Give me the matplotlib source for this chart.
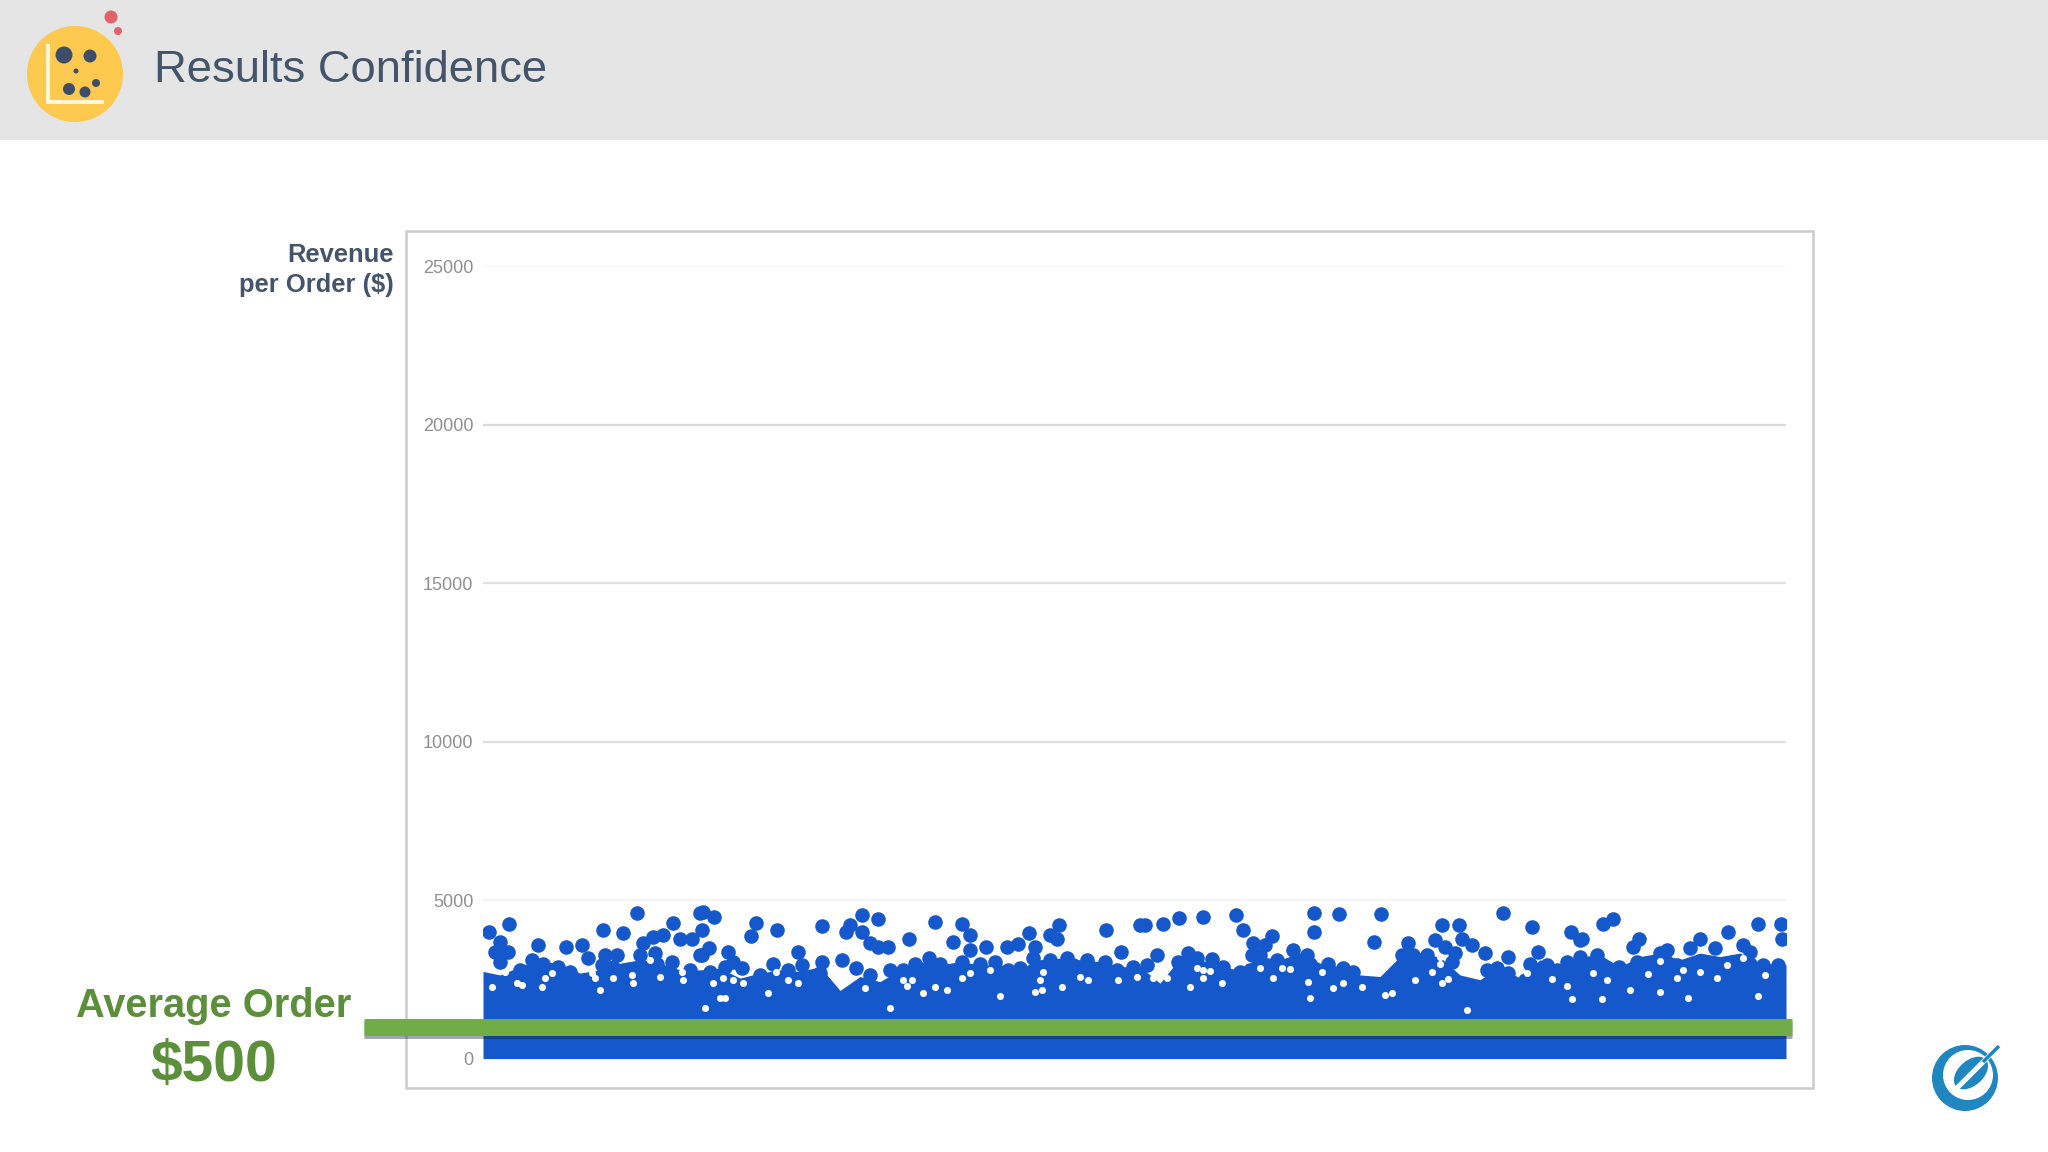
import matplotlib
matplotlib.use("Agg")
import matplotlib.pyplot as plt
import matplotlib.patheffects as pe
from matplotlib.patches import Rectangle, Circle, Ellipse

plt.rcParams['font.family'] = ['Liberation Sans', 'DejaVu Sans']

TITLE = "Results Confidence"
Y_LABEL = "Revenue\nper Order ($)"
AVG_LABEL = "Average Order"
AVG_VALUE_LABEL = "$500"

y_ticks = [0, 5000, 10000, 15000, 20000, 25000]
y_tick_labels = ["0", "5000", "10000", "15000", "20000", "25000"]
grid_colors = ["#ffffff", "#f4f4f4", "#e0e0e0", "#e0e0e0", "#dadada", "#f6f6f6"]
average_order_level = 985

dense_order = [0, 17, 37, 57, 77, 97, 117, 137, 157, 177, 197,
               217, 237, 257, 277, 297, 317, 337, 357, 377, 397, 417,
               437, 457, 477, 497, 517, 537, 557, 577, 597, 617, 637,
               657, 677, 697, 717, 737, 757, 777, 797, 817, 837, 857,
               877, 897, 917, 937, 957, 977, 997, 1017, 1037, 1057, 1077,
               1097, 1117, 1137, 1157, 1177, 1197, 1217, 1237, 1257, 1277, 1297, 1303]
dense_revenue = [2750, 2640, 2900, 3120, 2960, 2700, 2800, 3010, 3120, 3010, 2800,
                 2800, 2850, 2540, 2700, 2800, 2750, 2900, 2150, 2590, 2430, 2800,
                 3060, 2960, 3060, 2960, 2960, 2850, 3120, 3170, 3120, 3060, 2900,
                 2900, 2380, 3170, 3120, 2900, 2800, 3220, 3120, 3330, 3010, 2900,
                 2640, 2590, 3220, 3330, 3200, 2640, 2490, 2900, 2540, 3120, 2800,
                 3220, 3270, 2900, 3220, 3330, 3120, 3330, 3220, 3330, 3010, 2960, 2960]

order_a = [6, 26, 17, 12, 25, 17, 55, 83, 99, 105, 120, 140, 154, 190, 160, 170, 180, 197, 217, 209,
           49, 37, 60, 75, 87, 122, 134, 119, 130, 142, 157, 172, 159, 174, 189, 207, 217, 187]
revenue_a = [3990, 4260, 3690, 3370, 3370, 3060, 3580, 3530, 3600, 3160, 4060, 3950, 4580, 4270, 3640, 3850, 3900, 3790, 4600, 3790,
             3110, 2800, 3000, 2900, 2740, 3270, 3270, 2950, 2900, 2800, 3270, 3320, 2900, 3000, 3060, 2800, 3270, 2740]

order_b = [220, 231, 219, 273, 268, 294, 339, 379, 395, 367, 363, 379, 387, 395, 405, 426, 226, 219, 245, 315,
           359, 339, 290, 242, 259, 250, 319, 305, 373, 277, 337, 227, 387, 432, 407, 420, 432]
revenue_b = [4630, 4480, 4050, 4280, 3880, 4070, 4190, 4530, 4390, 4210, 3980, 3980, 3640, 3530, 3530, 3790, 3480, 3270, 3350, 3350,
             3110, 3040, 3000, 2900, 2850, 3060, 2950, 2790, 2850, 2640, 2690, 2740, 2640, 3000, 2790, 2790, 2690]

order_c = [452, 479, 470, 487, 487, 503, 524, 535, 546, 552, 576, 567, 574, 623, 638, 657,
           446, 457, 479, 497, 512, 537, 525, 550, 567, 584, 604, 622, 650, 634, 590]
revenue_c = [4320, 4260, 3670, 3900, 3420, 3530, 3530, 3610, 3950, 3530, 4210, 3900, 3760, 4070, 3370, 4210,
             3160, 3000, 3060, 3000, 3060, 2850, 2790, 3160, 3110, 3160, 3110, 3060, 2900, 2790, 2950]

order_d = [662, 680, 696, 720, 753, 760, 831, 856, 831, 789, 770, 782, 769, 777, 674, 664,
           695, 705, 714, 697, 729, 740, 757, 767, 794, 810, 824, 814, 827, 845, 860, 870, 789, 817]
revenue_d = [4210, 4260, 4450, 4480, 4530, 4060, 4600, 4560, 3980, 3880, 3640, 3580, 3270, 3270, 3270, 2950,
             3060, 3320, 3160, 2850, 3130, 2900, 2740, 2790, 3110, 3430, 3270, 3110, 3000, 3000, 2850, 2740, 2740, 2740]

order_e = [898, 891, 959, 976, 1020, 1049, 1088, 1097, 952, 979, 989, 962, 972, 1002, 1025,
           925, 919, 930, 924, 944, 942, 969, 960, 1055, 1047, 1064, 1084, 1097, 1004, 1014, 1025, 1087, 1042, 1074]
revenue_e = [4560, 3690, 4230, 4210, 4580, 4140, 4000, 3740, 3740, 3790, 3580, 3530, 3320, 3320, 3220,
             3640, 3270, 3270, 3000, 3270, 2950, 3060, 2800, 3370, 3000, 2950, 3060, 3220, 2800, 2850, 2690, 2690, 2480, 2800]

order_f = [1130, 1120, 1245, 1275, 1298, 1299, 1099, 1156, 1150, 1217, 1207, 1232, 1260, 1267, 1184, 1177,
           1114, 1102, 1117, 1136, 1154, 1165, 1182, 1194, 1209, 1219, 1234, 1234, 1250, 1249, 1267, 1280, 1295]
revenue_f = [4420, 4260, 4000, 4240, 4240, 3790, 3790, 3790, 3530, 3790, 3480, 3480, 3580, 3370, 3430, 3320,
             3270, 3000, 2950, 2900, 3060, 2900, 3110, 2950, 3000, 3000, 3000, 2800, 3060, 2850, 3000, 2950, 2950]

# white gaps inside the dense band
gap_order = [9, 22, 34, 39, 59, 62, 69, 109, 112, 130, 117, 150, 149, 167, 177, 200, 199,
             242, 237, 285, 222, 293, 305, 315, 240, 250, 260, 382, 420, 429, 424, 407, 230,
             440, 452, 464, 479, 487, 507, 517, 560, 557, 552, 559, 579, 605, 597, 635, 654,
             720, 720, 714, 727, 707, 739, 777, 799, 807, 839, 825, 860, 850, 827, 790, 677, 670, 684,
             957, 957, 932, 959, 965, 909, 902, 879, 1069, 1084, 1089, 984, 1044, 949,
             1124, 1165, 1177, 1194, 1200, 1147, 1119, 1177, 1205, 1110, 1217, 1234, 1244, 1260, 1282, 1275]
gap_revenue = [2270, 2740, 2380, 2320, 2250, 2530, 2690, 2690, 2530, 2530, 2160, 2380, 2640, 3110, 2560, 2480, 2740,
               1900, 1900, 2060, 1590, 2740, 2480, 2380, 2530, 2480, 2380, 2220, 2480, 2480, 2290, 1590, 2380,
               2080, 2250, 2160, 2530, 2690, 2800, 1960, 2740, 2480, 2110, 2170, 2270, 2480, 2590, 2480, 2590,
               2800, 2530, 2850, 2770, 2270, 2380, 2850, 2850, 2830, 2740, 2430, 2380, 2220, 1920, 2550, 2640, 2530, 2530,
               3220, 3000, 2480, 2380, 2500, 2060, 2000, 2250, 2500, 2290, 1880, 1530, 2690, 2740,
               2480, 2670, 3080, 2530, 2800, 2160, 1880, 2110, 1900, 2690, 2740, 2530, 2950, 3160, 2640, 1980]

orders = order_a + order_b + order_c + order_d + order_e + order_f
revenues = revenue_a + revenue_b + revenue_c + revenue_d + revenue_e + revenue_f

W, H = 2048, 1152
fig = plt.figure(figsize=(W / 100, H / 100), dpi=100, facecolor="white")

bg = fig.add_axes([0, 0, 1, 1], zorder=0)
bg.set_xlim(0, W)
bg.set_ylim(H, 0)
bg.axis("off")
bg.add_patch(Rectangle((0, 0), W, 140, fc="#e5e5e5", ec="none"))
bg.add_patch(Rectangle((406, 231), 1407, 857, fc="white", ec="#cbcbcb", lw=1.8))

bg.add_patch(Circle((75, 74), 48, fc="#fdc94f", ec="none"))
bg.add_patch(Circle((111, 17), 6.5, fc="#e2616a", ec="none"))
bg.add_patch(Circle((118, 31), 4, fc="#e2616a", ec="none"))
for cx, cy, r in [(64, 55, 8.5), (90, 56, 6.5), (76, 71, 2.5), (69, 89, 6), (85, 92, 5.5), (96, 83, 4)]:
    bg.add_patch(Circle((cx, cy), r, fc="#3d4f68", ec="none"))
bg.add_patch(Rectangle((46, 44), 4, 60, fc="#fff6dc", ec="none"))
bg.add_patch(Rectangle((46, 100), 58, 4, fc="#fff6dc", ec="none"))

bg.text(154, 70.5, TITLE, fontsize=32.7, color="#44546a", va="center", ha="left")
bg.text(394, 270, Y_LABEL, fontsize=18.4, fontweight="bold", color="#44546a",
        va="center", ha="right", linespacing=1.36)
bg.text(214, 1006, AVG_LABEL, fontsize=28.7, fontweight="bold", color="#5b8f3a", va="center", ha="center")
bg.text(214, 1066, AVG_VALUE_LABEL, fontsize=41, fontweight="bold", color="#5b8f3a", va="center", ha="center")

teal = "#1f86c0"
bg.add_patch(Circle((1965, 1078), 33, fc=teal, ec="none"))
bg.add_patch(Circle((1968, 1075), 25, fc="white", ec="none"))
bg.add_patch(Ellipse((1971, 1073), 40, 25, angle=-42, fc=teal, ec="none"))
bg.plot([1955, 1999], [1090, 1046], color="white", lw=3.6, solid_capstyle="butt")
bg.plot([1983, 1999], [1062, 1046], color=teal, lw=2.5, solid_capstyle="butt")

left, right, bottom_px, top_px = 483, 1786, 1058.6, 266.4
ax = fig.add_axes([left / W, 1 - bottom_px / H, (right - left) / W, (bottom_px - top_px) / H],
                  zorder=1, facecolor="none")
ax.set_xlim(0, right - left)
ax.set_ylim(0, 25000)
for s in ax.spines.values():
    s.set_visible(False)
ax.set_xticks([])
ax.set_yticks(y_ticks)
ax.set_yticklabels(y_tick_labels, fontsize=13, color="#8f8f8f")
ax.tick_params(axis="y", length=0, pad=7)
for level, c in zip(y_ticks[1:], grid_colors[1:]):
    ax.axhline(level, color=c, lw=1.6, zorder=1)

blue = "#1558cc"
ax.fill_between(dense_order, 0, dense_revenue, color=blue, lw=0, zorder=2)
ax.scatter(orders, revenues, s=110, color=blue, lw=0, zorder=3)
ax.scatter(gap_order, gap_revenue, s=26, color="white", lw=0, zorder=4)

ax.plot([-119, 1309], [average_order_level, average_order_level], color="#70ad47", lw=12.2,
        solid_capstyle="butt", clip_on=False, zorder=5,
        path_effects=[pe.SimpleLineShadow(offset=(0, -2), shadow_color="#14203a", alpha=0.4), pe.Normal()])

fig.savefig("out.png", dpi=100, facecolor="white")
